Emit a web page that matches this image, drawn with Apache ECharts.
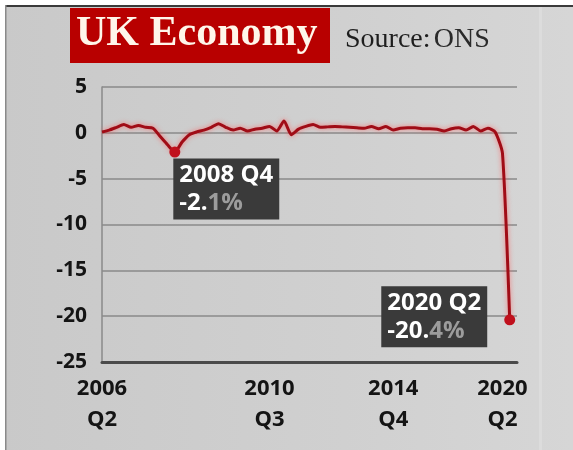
<!DOCTYPE html>
<html>
<head>
<meta charset="utf-8">
<script src="https://cdn.jsdelivr.net/npm/echarts@6/dist/echarts.min.js"></script>
<style>
  html, body { margin: 0; padding: 0; background: #ffffff; }
  #chart { width: 573px; height: 450px; }
</style>
</head>
<body>
<div id="chart"></div>
<script>
// ---- data ----
const quarters = [
  '2006 Q2','2006 Q3','2006 Q4',
  '2007 Q1','2007 Q2','2007 Q3','2007 Q4',
  '2008 Q1','2008 Q2','2008 Q3','2008 Q4',
  '2009 Q1','2009 Q2','2009 Q3','2009 Q4',
  '2010 Q1','2010 Q2','2010 Q3','2010 Q4',
  '2011 Q1','2011 Q2','2011 Q3','2011 Q4',
  '2012 Q1','2012 Q2','2012 Q3','2012 Q4',
  '2013 Q1','2013 Q2','2013 Q3','2013 Q4',
  '2014 Q1','2014 Q2','2014 Q3','2014 Q4',
  '2015 Q1','2015 Q2','2015 Q3','2015 Q4',
  '2016 Q1','2016 Q2','2016 Q3','2016 Q4',
  '2017 Q1','2017 Q2','2017 Q3','2017 Q4',
  '2018 Q1','2018 Q2','2018 Q3','2018 Q4',
  '2019 Q1','2019 Q2','2019 Q3','2019 Q4',
  '2020 Q1','2020 Q2'
];
const growth = [
  0.1, 0.3, 0.6,
  0.9, 0.6, 0.8, 0.6,
  0.5, -0.4, -1.3, -2.1,
  -1.0, -0.2, 0.1, 0.3,
  0.6, 1.0, 0.6, 0.3,
  0.5, 0.2, 0.4, 0.5,
  0.7, 0.2, 1.3, -0.2,
  0.4, 0.7, 0.9, 0.6,
  0.65, 0.7, 0.65, 0.6,
  0.55, 0.5, 0.7, 0.45,
  0.7, 0.3, 0.5, 0.55,
  0.55, 0.45, 0.45, 0.4,
  0.2, 0.45, 0.55, 0.3,
  0.7, 0.2, 0.5, 0.1,
  -2.2, -20.4
];
const xTickLabels = ['2006\nQ2', '2010\nQ3', '2014\nQ4', '2020\nQ2'];
const yTicks = [5, 0, -5, -10, -15, -20, -25];
const annotations = [
  { quarter: '2008 Q4', head: '2008 Q4', valA: '-2.', valB: '1%' },
  { quarter: '2020 Q2', head: '2020 Q2', valA: '-20.', valB: '4%' }
];
const titleText = 'UK Economy';
const sourceLabel = 'Source:';
const sourceName = 'ONS';

// ---- chart ----
const chart = echarts.init(document.getElementById('chart'), null, { renderer: 'canvas' });

const axisCats = quarters.concat(['']);           // one empty slot as right padding
const labelSlots = [0, 23, 40, 55];               // where the four tick labels sit
const annIdx = annotations.map(a => quarters.indexOf(a.quarter));

const sansBold = '"Open Sans", "DejaVu Sans", sans-serif';

const richAnn = {
  h: { color: '#ffffff', fontSize: 24, fontWeight: 'bold', fontFamily: sansBold, lineHeight: 28, align: 'left' },
  w: { color: '#ffffff', fontSize: 24, fontWeight: 'bold', fontFamily: sansBold, lineHeight: 28, align: 'left' },
  g: { color: '#9c9c9c', fontSize: 24, fontWeight: 'bold', fontFamily: sansBold, lineHeight: 28, align: 'left' }
};

const seriesData = growth.map((v, i) => {
  const k = annIdx.indexOf(i);
  if (k < 0) return v;
  const a = annotations[k];
  const first = (k === 0);
  return {
    value: v,
    label: {
      show: true,
      formatter: '{h|' + a.head + '}\n{w|' + a.valA + '}{g|' + a.valB + '}',
      position: first ? [4, 12] : [-17, -28],
      align: first ? 'left' : 'right',
      verticalAlign: 'top',
      backgroundColor: '#3a3a3a',
      padding: [3, 6, 2, 6],
      rich: richAnn
    }
  };
});

const option = {
  backgroundColor: {
    type: 'linear', x: 0, y: 0, x2: 1, y2: 0,
    colorStops: [
      { offset: 0, color: '#c9c9c9' },
      { offset: 0.6, color: '#d0d0d0' },
      { offset: 1, color: '#d6d6d6' }
    ]
  },
  animation: false,
  grid: { left: 102, right: 56, top: 87, bottom: 88, containLabel: false },
  xAxis: {
    type: 'category',
    data: axisCats,
    boundaryGap: false,
    axisLine: { show: true, onZero: false, lineStyle: { color: '#4a4a4a', width: 3 } },
    axisTick: { show: false },
    splitLine: { show: false },
    axisLabel: {
      interval: function (index) { return labelSlots.indexOf(index) >= 0; },
      formatter: function (value, index) {
        const k = labelSlots.indexOf(index);
        return k >= 0 ? xTickLabels[k] : '';
      },
      color: '#141414',
      fontSize: 22,
      fontWeight: 'bold',
      fontFamily: sansBold,
      lineHeight: 31,
      margin: 11
    }
  },
  yAxis: {
    type: 'value',
    min: yTicks[yTicks.length - 1],
    max: yTicks[0],
    interval: 5,
    axisLine: { show: true, lineStyle: { color: '#8a8a8a', width: 1.5 } },
    axisTick: { show: false },
    splitLine: { show: true, lineStyle: { color: '#8a8a8a', width: 1.5 } },
    axisLabel: {
      color: '#141414',
      fontSize: 21,
      fontWeight: 'bold',
      fontFamily: sansBold,
      margin: 15
    }
  },
  series: [{
    type: 'line',
    data: seriesData,
    smooth: 0.2,
    showSymbol: true,
    showAllSymbol: true,
    symbol: 'circle',
    symbolSize: function (v, p) { return annIdx.indexOf(p.dataIndex) >= 0 ? 11 : 0; },
    itemStyle: { color: '#c0101c', borderWidth: 0 },
    lineStyle: {
      color: '#a00c16',
      width: 3,
      shadowColor: 'rgba(255,90,90,0.75)',
      shadowBlur: 5
    },
    label: { show: false },
    z: 3
  }],
  graphic: [
    { type: 'rect', shape: { x: 0, y: 0, width: 573, height: 5 }, style: { fill: '#ffffff' }, silent: true },
    { type: 'rect', shape: { x: 0, y: 5, width: 573, height: 2 }, style: { fill: '#3a3a3a' }, silent: true },
    { type: 'rect', shape: { x: 0, y: 0, width: 5, height: 450 }, style: { fill: '#ffffff' }, silent: true },
    { type: 'rect', shape: { x: 5, y: 5, width: 1.5, height: 445 }, style: { fill: '#8a8a8a' }, silent: true },
    { type: 'rect', shape: { x: 539, y: 7, width: 3, height: 443 }, style: { fill: '#dcdcdc' }, silent: true },
    { type: 'rect', shape: { x: 70, y: 8, width: 260, height: 55 }, style: { fill: '#b80000' }, silent: true },
    {
      type: 'text', left: 76, top: 13, silent: true,
      style: {
        text: titleText,
        fill: '#fff6ea',
        font: 'bold 42px "Liberation Serif", serif'
      }
    },
    {
      type: 'text', left: 345, top: 26, silent: true,
      style: {
        text: '{a|' + sourceLabel + '} {b|' + sourceName + '}',
        rich: {
          a: { fill: '#1e1e1e', font: '28px "Liberation Serif", serif' },
          b: { fill: '#2a2a2a', font: '28px "Liberation Serif", serif' }
        }
      }
    }
  ]
};

chart.setOption(option);
</script>
</body>
</html>
